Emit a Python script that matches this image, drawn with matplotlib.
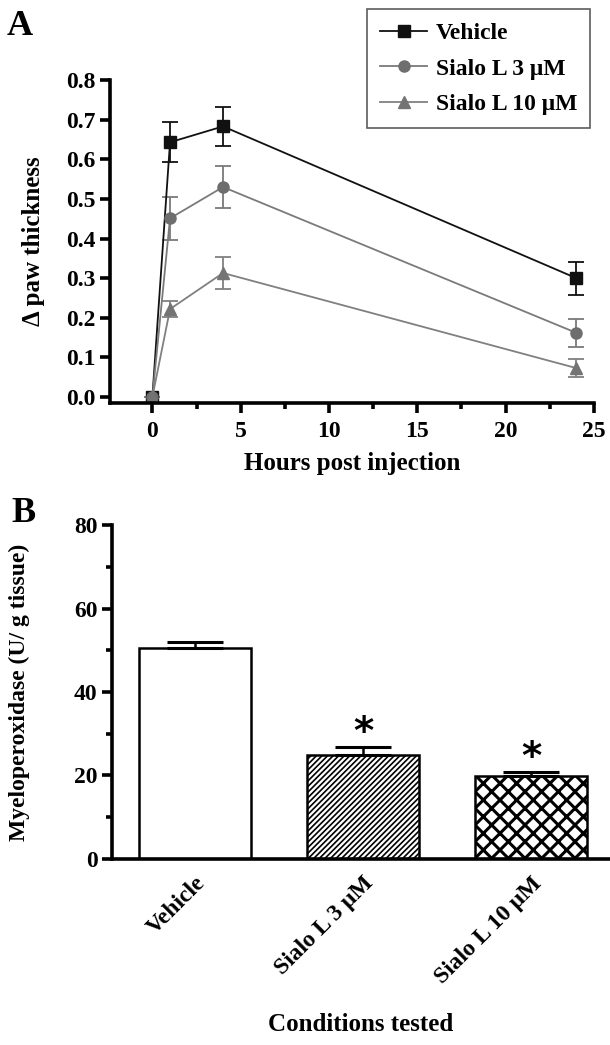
import numpy as np
import matplotlib
matplotlib.use("Agg")
import matplotlib.pyplot as plt
from matplotlib.lines import Line2D
from matplotlib.ticker import MultipleLocator

plt.rcParams['font.family'] = ['Liberation Serif', 'DejaVu Serif']
plt.rcParams['font.weight'] = 'bold'
plt.rcParams['hatch.linewidth'] = 1.3

# panel A: paw thickness over time
hours = [0, 1, 4, 24]
vehicle = [0.0, 0.643, 0.683, 0.300]
vehicle_err = [0.0, 0.050, 0.049, 0.042]
sialo3 = [0.0, 0.451, 0.530, 0.162]
sialo3_err = [0.0, 0.055, 0.052, 0.036]
sialo10 = [0.0, 0.222, 0.313, 0.073]
sialo10_err = [0.0, 0.020, 0.040, 0.022]
series_names = ['Vehicle', 'Sialo L 3 \u03bcM', 'Sialo L 10 \u03bcM']

# panel B: myeloperoxidase
conditions = ['Vehicle', 'Sialo L 3 \u03bcM', 'Sialo L 10 \u03bcM']
mpo = [50.5, 24.9, 19.9]
mpo_err = [1.4, 1.9, 0.9]
significant = [False, True, True]

fig = plt.figure(figsize=(6.10, 10.45), dpi=100)

# ---- panel A ----
axA = fig.add_axes([0.1803, 0.6144, 0.7934, 0.309])
styles = [
    dict(color='#111111', marker='s', mfc='#111111', mec='#111111'),
    dict(color='#7a7a7a', marker='o', mfc='#6e6e6e', mec='#6e6e6e'),
    dict(color='#808080', marker='^', mfc='#747474', mec='#747474'),
]
handles = []
for vals, errs, name, st in zip([vehicle, sialo3, sialo10],
                                [vehicle_err, sialo3_err, sialo10_err],
                                series_names, styles):
    axA.errorbar(hours, vals, yerr=errs, color=st['color'], marker=st['marker'],
                 mfc=st['mfc'], mec=st['mec'], ms=8, lw=1.3, elinewidth=1.3,
                 capsize=6, capthick=1.3)
    handles.append(Line2D([], [], color=st['color'], marker=st['marker'],
                          mfc=st['mfc'], mec=st['mec'], ms=8, lw=1.3, label=name))

axA.set_xlim(-2.4, 25)
axA.set_ylim(-0.015, 0.8)
axA.xaxis.set_major_locator(MultipleLocator(5))
axA.xaxis.set_minor_locator(MultipleLocator(2.5))
axA.yaxis.set_major_locator(MultipleLocator(0.1))
axA.yaxis.set_major_formatter(plt.FormatStrFormatter('%.1f'))
axA.set_xlabel('Hours post injection', fontsize=18, fontweight='bold', labelpad=7)
axA.set_ylabel('\u0394 paw thickness', fontsize=18, fontweight='bold')
axA.yaxis.set_label_coords(-0.135, 0.5)

# ---- panel B ----
axB = fig.add_axes([0.1836, 0.178, 0.8164, 0.3196])
pos = np.arange(len(conditions))
bars = axB.bar(pos, mpo, width=0.67, color='white', edgecolor='black', lw=1.8,
               yerr=[[0] * 3, mpo_err],
               error_kw=dict(ecolor='black', elinewidth=1.8, capsize=20, capthick=2.2))
bars[1].set_hatch('//////')
bars[2].set_hatch('xx')
if hasattr(bars[2], 'set_hatch_linewidth'):
    bars[1].set_hatch_linewidth(1.2)
    bars[2].set_hatch_linewidth(2.2)
for p, v, e, s in zip(pos, mpo, mpo_err, significant):
    if s:
        axB.text(p, v + e + 3.3, '*', ha='center', va='center', fontsize=28,
                 fontweight='bold', family='DejaVu Sans')

axB.set_xlim(-0.494, 2.47)
axB.set_ylim(0, 80)
axB.yaxis.set_major_locator(MultipleLocator(20))
axB.yaxis.set_minor_locator(MultipleLocator(10))
axB.set_xticks(pos)
axB.set_xticklabels(conditions, rotation=45, ha='right', rotation_mode='anchor',
                    fontsize=17, fontweight='bold')
axB.set_xlabel('Conditions tested', fontsize=18, fontweight='bold', labelpad=18)
axB.set_ylabel('Myeloperoxidase (U/ g tissue)', fontsize=17, fontweight='bold')
axB.yaxis.set_label_coords(-0.165, 0.5)

for ax in (axA, axB):
    for side in ('top', 'right'):
        ax.spines[side].set_visible(False)
    for side in ('left', 'bottom'):
        ax.spines[side].set_linewidth(2.6)
    ax.tick_params(axis='both', which='major', width=2.6, length=7, labelsize=17)
    ax.tick_params(axis='both', which='minor', width=2.6, length=4)
    for lab in ax.get_yticklabels():
        lab.set_fontweight('bold')
for lab in axA.get_xticklabels():
    lab.set_fontweight('bold')
axA.tick_params(axis='x', which='major', pad=6)
axB.tick_params(axis='x', length=0, pad=10, labelsize=17)

leg = axA.legend(handles=handles, loc='upper right', bbox_to_anchor=(0.967, 0.991),
                 bbox_transform=fig.transFigure, borderaxespad=0, fontsize=17,
                 frameon=True, fancybox=False, edgecolor='#333333', handlelength=2.0,
                 handletextpad=0.35, borderpad=0.55, labelspacing=0.6)
leg.get_frame().set_linewidth(1.2)
for t in leg.get_texts():
    t.set_fontweight('bold')

fig.text(0.033, 0.975, 'A', fontsize=26, fontweight='bold', ha='center', va='center')
fig.text(0.038, 0.509, 'B', fontsize=26, fontweight='bold', ha='center', va='center')

fig.savefig('out.png', dpi=100)
